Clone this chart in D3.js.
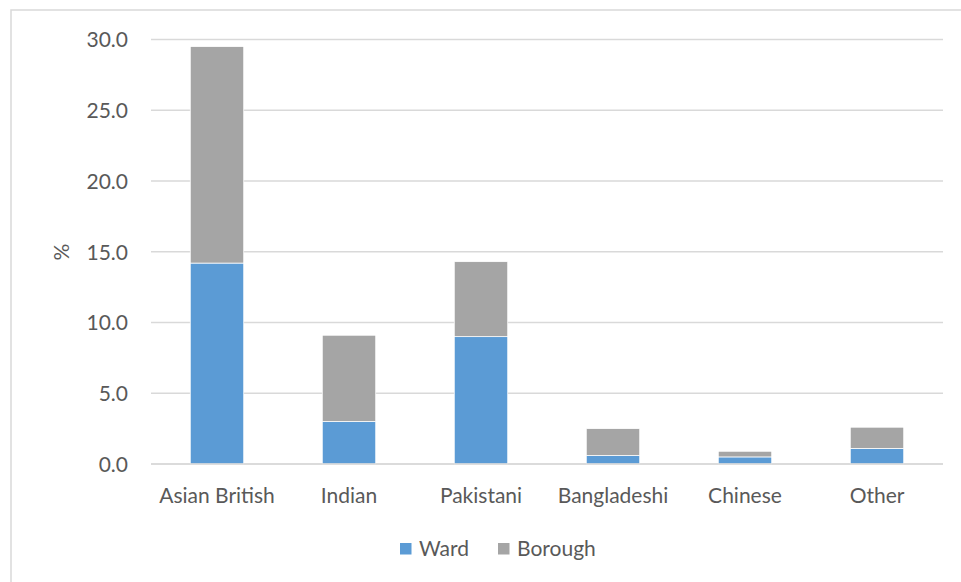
<!DOCTYPE html>
<html>
<head>
<meta charset="utf-8">
<script src="https://cdn.jsdelivr.net/npm/d3@7"></script>
<style>
  html, body { margin: 0; padding: 0; background: #fff; }
  svg { display: block; }
  text { font-family: Lato, "Open Sans", sans-serif; fill: #595959; }
</style>
</head>
<body>
<svg id="chart" width="961" height="582"></svg>
<script>
const categories = ["Asian British", "Indian", "Pakistani", "Bangladeshi", "Chinese", "Other"];
const wardValues = [14.2, 3.0, 9.0, 0.6, 0.5, 1.1];
const boroughValues = [15.3, 6.1, 5.3, 1.9, 0.4, 1.5];
const seriesNames = ["Ward", "Borough"];
const seriesColors = ["#5B9BD5", "#A5A5A5"];
const yTicks = [0, 5, 10, 15, 20, 25, 30];
const yLabel = "%";

const svg = d3.select("#chart");

// chart area border (cropped at right/bottom)
svg.append("rect")
  .attr("x", 11).attr("y", 10)
  .attr("width", 1000).attr("height", 640)
  .attr("fill", "none").attr("stroke", "#D9D9D9").attr("stroke-width", 1.5);

const x = d3.scaleBand().domain(categories).range([151, 943])
  .paddingInner(0.595).paddingOuter(0.2975);
const y = d3.scaleLinear().domain([0, 30]).range([464, 39.5]);

// gridlines
svg.append("g").selectAll("line").data(yTicks).join("line")
  .attr("x1", 151).attr("x2", 943)
  .attr("y1", d => y(d)).attr("y2", d => y(d))
  .attr("stroke", "#D9D9D9").attr("stroke-width", 1.5);

// y axis labels
const yAxis = d3.axisLeft(y).tickValues(yTicks).tickFormat(d3.format(".1f")).tickSize(0).tickPadding(0);
const yg = svg.append("g").attr("transform", "translate(128,0)").call(yAxis);
yg.select(".domain").remove();
yg.selectAll("text").style("font-size", "21px").attr("fill", "#595959")
  .style("font-family", "Lato, 'Open Sans', sans-serif").attr("dy", "0.35em");

// stacked data
const rows = categories.map((c, i) => ({ cat: c, Ward: wardValues[i], Borough: boroughValues[i] }));
const stack = d3.stack().keys(seriesNames)(rows);

svg.append("g").selectAll("g").data(stack).join("g")
  .attr("fill", (d, i) => seriesColors[i])
  .selectAll("rect").data(d => d).join("rect")
  .attr("x", d => x(d.data.cat))
  .attr("width", x.bandwidth())
  .attr("y", d => y(d[1]))
  .attr("height", d => y(d[0]) - y(d[1]))
  .attr("stroke", "#fff").attr("stroke-width", 0.75);

// x axis line (baseline grid drawn again on top)
svg.append("line").attr("x1", 151).attr("x2", 943).attr("y1", y(0)).attr("y2", y(0))
  .attr("stroke", "#D9D9D9").attr("stroke-width", 1.5);

// x labels
const xAxis = d3.axisBottom(x).tickSize(0).tickPadding(0);
const xg = svg.append("g").attr("transform", "translate(0,496)").call(xAxis);
xg.select(".domain").remove();
xg.selectAll("text").style("font-size", "21px").attr("fill", "#595959")
  .style("font-family", "Lato, 'Open Sans', sans-serif").attr("dy", "0.35em");

// y axis title
svg.append("text")
  .attr("transform", "translate(62,252) rotate(-90)")
  .attr("text-anchor", "middle").attr("dy", "0.35em")
  .style("font-size", "21px")
  .text(yLabel);

// legend
const legend = svg.append("g").attr("transform", "translate(400,543)");
const items = [{ name: seriesNames[0], color: seriesColors[0], dx: 0 },
               { name: seriesNames[1], color: seriesColors[1], dx: 98 }];
const li = legend.selectAll("g").data(items).join("g")
  .attr("transform", d => `translate(${d.dx},0)`);
li.append("rect").attr("width", 11.5).attr("height", 11.5).attr("fill", d => d.color);
li.append("text").attr("x", 19).attr("y", 12.5).style("font-size", "21px").text(d => d.name);
</script>
</body>
</html>
